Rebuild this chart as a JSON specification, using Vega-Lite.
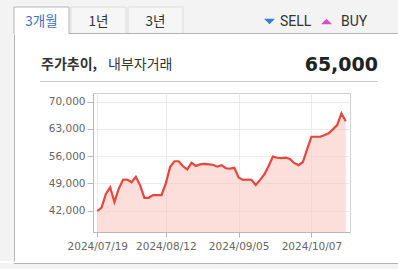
{
  "$schema": "https://vega.github.io/schema/vega-lite/v6.json",
  "padding": 0,
  "background": "#ffffff",
  "spacing": 0,
  "config": {"view": {"stroke": null}, "concat": {"spacing": 0}},
  "vconcat": [
    {
      "width": 398,
      "height": 34,
      "view": {"fill": "#f3f3f3", "stroke": null},
      "data": {"values": [{"tab": "3개월", "on": 1}, {"tab": "1년", "on": 0}, {"tab": "3년", "on": 0}]},
      "layer": [
        {
          "mark": {"type": "rect", "clip": true, "strokeWidth": 1},
          "encoding": {
            "x": {"field": "tab", "type": "nominal", "sort": null, "axis": null,
                  "scale": {"type": "band", "domain": ["3개월", "1년", "3년", "s4", "s5", "s6", "s7", "s8"], "range": [14, 468], "paddingInner": 0.035, "paddingOuter": 0}},
            "y": {"datum": "t", "type": "nominal", "axis": null,
                  "scale": {"type": "band", "domain": ["t"], "range": [7, 40], "paddingInner": 0, "paddingOuter": 0}},
            "fill": {"condition": {"test": "datum.on == 1", "value": "#ffffff"}, "value": "#f6f6f6"},
            "stroke": {"condition": {"test": "datum.on == 1", "value": "#b4b4b4"}, "value": "#dcdcdc"}
          }
        },
        {
          "transform": [{"filter": "datum.on == 1"}],
          "mark": {"type": "rule", "color": "#b4b4b4", "strokeWidth": 1},
          "encoding": {
            "x": {"datum": "3개월", "type": "nominal", "bandPosition": 1},
            "x2": {"value": "width"},
            "y": {"datum": "t", "type": "nominal", "bandPosition": 0.803}
          }
        },
        {
          "mark": {"type": "text", "font": "Noto Sans CJK KR", "fontSize": 13.5, "baseline": "middle", "align": "center"},
          "encoding": {
            "x": {"field": "tab", "type": "nominal", "sort": null, "bandPosition": 0.5},
            "y": {"datum": "t", "type": "nominal", "bandPosition": 0.44},
            "text": {"field": "tab"},
            "color": {"condition": {"test": "datum.on == 1", "value": "#3b6fc0"}, "value": "#333333"}
          }
        },
        {
          "data": {"values": [{"item": "SELL"}]},
          "mark": {"type": "point", "shape": "M-1,-0.5L1,-0.5L0,0.5Z", "filled": true, "size": 121, "color": "#3a7bd8", "opacity": 1},
          "encoding": {
            "x": {"datum": "s5", "type": "nominal", "bandPosition": 0.5},
            "y": {"datum": "t", "type": "nominal", "bandPosition": 0.44}
          }
        },
        {
          "data": {"values": [{"item": "SELL"}]},
          "mark": {"type": "text", "align": "left", "baseline": "middle", "dx": 10.5, "font": "Roboto", "fontSize": 14, "color": "#333333"},
          "encoding": {
            "x": {"datum": "s5", "type": "nominal", "bandPosition": 0.5},
            "y": {"datum": "t", "type": "nominal", "bandPosition": 0.44},
            "text": {"field": "item"}
          }
        },
        {
          "data": {"values": [{"item": "BUY"}]},
          "mark": {"type": "point", "shape": "M-1,0.5L1,0.5L0,-0.5Z", "filled": true, "size": 121, "dx": 3.5, "color": "#d94fc8", "opacity": 1},
          "encoding": {
            "x": {"datum": "s6", "type": "nominal", "bandPosition": 0.5},
            "y": {"datum": "t", "type": "nominal", "bandPosition": 0.44}
          }
        },
        {
          "data": {"values": [{"item": "BUY"}]},
          "mark": {"type": "text", "align": "left", "baseline": "middle", "dx": 14.5, "font": "Roboto", "fontSize": 14, "color": "#333333"},
          "encoding": {
            "x": {"datum": "s6", "type": "nominal", "bandPosition": 0.5},
            "y": {"datum": "t", "type": "nominal", "bandPosition": 0.44},
            "text": {"field": "item"}
          }
        }
      ]
    },
    {
      "spacing": 0,
      "hconcat": [
        {
          "width": 14,
          "height": 227,
          "view": {"fill": "#f3f3f3", "stroke": null},
          "data": {"values": []},
          "mark": "rule",
          "encoding": {
            "y": {"field": "v", "type": "quantitative",
                  "scale": {"domain": [0, 1], "range": [0, 227]},
                  "axis": {"orient": "right", "labels": false, "ticks": false, "grid": false, "title": null, "domainColor": "#b4b4b4", "minExtent": 0, "maxExtent": 0}}
          }
        },
        {
          "spacing": 0,
          "vconcat": [
            {
              "width": 306,
              "height": 47,
              "data": {"values": [{"part": "a", "t": "주가추이,"}, {"part": "b", "t": "내부자거래"}, {"part": "c", "t": "65,000"}]},
              "layer": [
                {
                  "transform": [{"filter": "datum.part == 'a'"}],
                  "mark": {"type": "text", "align": "left", "baseline": "middle", "dx": 1, "dy": 7.5, "font": "Noto Sans CJK KR", "fontSize": 14, "fontWeight": "bold", "color": "#333333"},
                  "encoding": {
                    "x": {"datum": "L", "type": "nominal",
                          "scale": {"type": "point", "domain": ["L", "R"], "range": [-53, 285], "padding": 0},
                          "axis": {"orient": "bottom", "domain": false, "labels": false, "ticks": false, "grid": false, "title": null, "minExtent": 11, "maxExtent": 11}},
                    "text": {"field": "t"}
                  }
                },
                {
                  "transform": [{"filter": "datum.part == 'a'"}],
                  "mark": {"type": "rule", "color": "#cccccc", "strokeWidth": 1},
                  "encoding": {
                    "x": {"datum": "L", "type": "nominal"},
                    "x2": {"datum": "R"},
                    "y": {"value": "height"},
                    "yOffset": {"value": 0.5}
                  }
                },
                {
                  "transform": [{"filter": "datum.part == 'b'"}],
                  "mark": {"type": "text", "align": "left", "baseline": "middle", "dx": 68, "dy": 7.5, "font": "Noto Sans CJK KR", "fontSize": 14, "color": "#333333"},
                  "encoding": {
                    "x": {"datum": "L", "type": "nominal"},
                    "text": {"field": "t"}
                  }
                },
                {
                  "transform": [{"filter": "datum.part == 'c'"}],
                  "mark": {"type": "text", "align": "right", "baseline": "middle", "dy": 7.5, "font": "DejaVu Sans", "fontSize": 19, "fontWeight": "bold", "color": "#222222"},
                  "encoding": {
                    "x": {"datum": "R", "type": "nominal"},
                    "text": {"field": "t"}
                  }
                }
              ]
            },
            {
              "width": 257,
              "height": 139,
              "view": {"stroke": "#d0d0d0"},
              "data": {"values": [
                {"d": "2024/07/19", "p": 41900}, {"d": "2024/07/22", "p": 42800}, {"d": "2024/07/23", "p": 46300},
                {"d": "2024/07/24", "p": 48000}, {"d": "2024/07/25", "p": 44200}, {"d": "2024/07/26", "p": 47600},
                {"d": "2024/07/29", "p": 49900}, {"d": "2024/07/30", "p": 50000}, {"d": "2024/07/31", "p": 49300},
                {"d": "2024/08/01", "p": 50700}, {"d": "2024/08/02", "p": 48500}, {"d": "2024/08/05", "p": 45300},
                {"d": "2024/08/06", "p": 45300}, {"d": "2024/08/07", "p": 46000}, {"d": "2024/08/08", "p": 46000},
                {"d": "2024/08/09", "p": 46000}, {"d": "2024/08/12", "p": 49000}, {"d": "2024/08/13", "p": 53200},
                {"d": "2024/08/14", "p": 54700}, {"d": "2024/08/16", "p": 54700}, {"d": "2024/08/19", "p": 53400},
                {"d": "2024/08/20", "p": 52600}, {"d": "2024/08/21", "p": 54300}, {"d": "2024/08/22", "p": 53500},
                {"d": "2024/08/23", "p": 53900}, {"d": "2024/08/26", "p": 54000}, {"d": "2024/08/27", "p": 53900},
                {"d": "2024/08/28", "p": 53800}, {"d": "2024/08/29", "p": 53300}, {"d": "2024/08/30", "p": 53700},
                {"d": "2024/09/02", "p": 52900}, {"d": "2024/09/03", "p": 52800}, {"d": "2024/09/04", "p": 53000},
                {"d": "2024/09/05", "p": 50500}, {"d": "2024/09/06", "p": 49900}, {"d": "2024/09/09", "p": 50000},
                {"d": "2024/09/10", "p": 49900}, {"d": "2024/09/11", "p": 48600}, {"d": "2024/09/12", "p": 49900},
                {"d": "2024/09/13", "p": 51300}, {"d": "2024/09/19", "p": 53500}, {"d": "2024/09/20", "p": 55900},
                {"d": "2024/09/23", "p": 55600}, {"d": "2024/09/24", "p": 55500}, {"d": "2024/09/25", "p": 55600},
                {"d": "2024/09/26", "p": 55300}, {"d": "2024/09/27", "p": 54200}, {"d": "2024/09/30", "p": 53700},
                {"d": "2024/10/02", "p": 54500}, {"d": "2024/10/04", "p": 57800}, {"d": "2024/10/07", "p": 61000},
                {"d": "2024/10/08", "p": 61000}, {"d": "2024/10/10", "p": 61000}, {"d": "2024/10/11", "p": 61400},
                {"d": "2024/10/14", "p": 61900}, {"d": "2024/10/15", "p": 62900}, {"d": "2024/10/16", "p": 64000},
                {"d": "2024/10/17", "p": 67000}, {"d": "2024/10/18", "p": 65000}
              ]},
              "encoding": {
                "x": {"field": "d", "type": "ordinal", "sort": null,
                      "scale": {"type": "point", "padding": 1.17},
                      "axis": {"values": ["2024/07/19", "2024/08/12", "2024/09/05", "2024/10/07"], "labelAngle": 0, "title": null,
                               "grid": true, "gridColor": "#ececec", "domainColor": "#b8b8b8", "tickColor": "#b8b8b8", "tickSize": 5,
                               "labelPadding": 4, "labelColor": "#666666", "labelFont": "DejaVu Sans", "labelFontSize": 10.5,
                               "labelOverlap": false, "minExtent": 30, "maxExtent": 30}},
                "y": {"field": "p", "type": "quantitative",
                      "scale": {"domain": [36500, 72250], "nice": false, "zero": false},
                      "axis": {"values": [42000, 49000, 56000, 63000, 70000], "format": ",d", "title": null,
                               "grid": true, "gridColor": "#ececec", "domainColor": "#b8b8b8", "tickColor": "#b8b8b8", "tickSize": 6,
                               "labelPadding": 2, "labelColor": "#666666", "labelFont": "DejaVu Sans", "labelFontSize": 10.5,
                               "minExtent": 78, "maxExtent": 78}}
              },
              "layer": [
                {"mark": {"type": "area", "color": "#f9c3be", "opacity": 0.55}, "encoding": {"y2": {"datum": 36500}}},
                {"mark": {"type": "line", "color": "#e8463d", "strokeWidth": 2.2}}
              ]
            }
          ]
        }
      ]
    },
    {
      "width": 398,
      "height": 8,
      "view": {"fill": "#f3f3f3", "stroke": null},
      "data": {"values": [{"v": 0}]},
      "mark": {"type": "rule", "color": "#b4b4b4", "strokeWidth": 1},
      "encoding": {
        "x": {"field": "v", "type": "quantitative",
              "scale": {"domain": [0, 1], "range": [14, 398]}, "axis": null},
        "x2": {"value": "width"},
        "y": {"value": 0},
        "yOffset": {"value": 0.5}
      }
    }
  ]
}
